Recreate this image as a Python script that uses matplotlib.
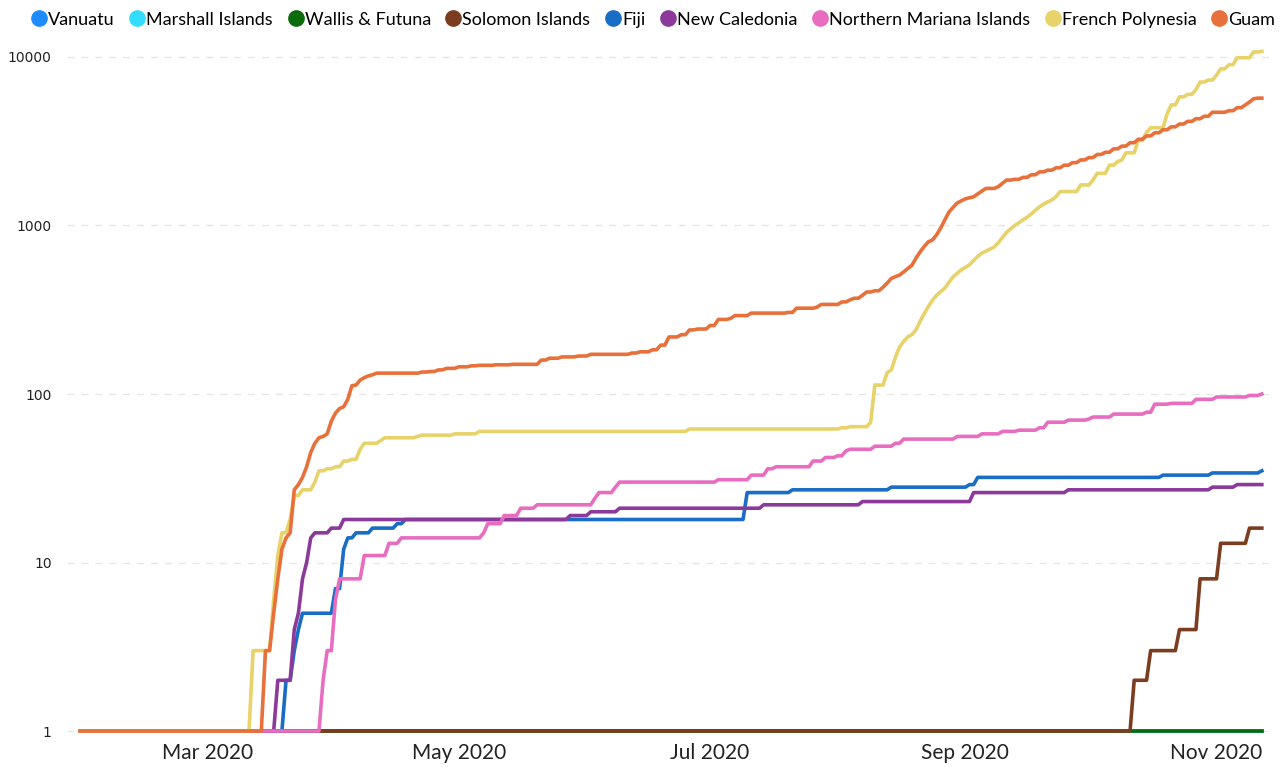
import matplotlib.pyplot as plt
import matplotlib.dates as mdates
from matplotlib.lines import Line2D
from matplotlib.ticker import NullLocator
import numpy as np
import pandas as pd

START = "2020-01-30"
END = "2020-11-12"

countries = ["Vanuatu", "Marshall Islands", "Wallis & Futuna", "Solomon Islands", "Fiji",
             "New Caledonia", "Northern Mariana Islands", "French Polynesia", "Guam"]
colours = ["#1e8cff", "#33ddff", "#0b6b0b", "#7a3d1f", "#1a6dc4",
           "#8b3a9c", "#e86dc0", "#e8d26a", "#e8703a"]

# cumulative confirmed cases, written as (date the total changed, new total)
vanuatu_dates = ["2020-01-30"]
vanuatu_cases = [1]

marshall_dates = ["2020-01-30"]
marshall_cases = [1]

wallis_dates = ["2020-01-30"]
wallis_cases = [1]

solomon_dates = ["2020-01-30", "2020-10-12", "2020-10-16", "2020-10-23", "2020-10-28",
                 "2020-11-02", "2020-11-09"]
solomon_cases = [1, 2, 3, 4, 8, 13, 16]

fiji_dates = ["2020-01-30", "2020-03-20", "2020-03-22", "2020-03-23", "2020-03-24",
              "2020-04-01", "2020-04-03", "2020-04-04", "2020-04-06", "2020-04-10",
              "2020-04-16", "2020-04-18", "2020-07-10", "2020-07-21", "2020-08-14",
              "2020-09-02", "2020-09-04", "2020-10-19", "2020-10-31", "2020-11-12"]
fiji_cases = [1, 2, 3, 4, 5, 7, 12, 14, 15, 16, 17, 18, 26, 27, 28, 29, 32, 33, 34, 35]

caledonia_dates = ["2020-01-30", "2020-03-18", "2020-03-22", "2020-03-23", "2020-03-24",
                   "2020-03-25", "2020-03-26", "2020-03-27", "2020-03-31", "2020-04-03",
                   "2020-05-28", "2020-06-02", "2020-06-09", "2020-07-14", "2020-08-07",
                   "2020-09-03", "2020-09-26", "2020-10-31", "2020-11-06"]
caledonia_cases = [1, 2, 4, 5, 8, 10, 14, 15, 16, 18, 19, 20, 21, 22, 23, 26, 27, 28, 29]

mariana_dates = ["2020-01-30", "2020-03-29", "2020-03-30", "2020-04-01", "2020-04-02",
                 "2020-04-08", "2020-04-14", "2020-04-17", "2020-05-07", "2020-05-08",
                 "2020-05-12", "2020-05-16", "2020-05-20", "2020-06-03", "2020-06-04",
                 "2020-06-08", "2020-06-09", "2020-07-03", "2020-07-11", "2020-07-15",
                 "2020-07-17", "2020-07-26", "2020-07-29", "2020-08-01", "2020-08-03",
                 "2020-08-04", "2020-08-10", "2020-08-15", "2020-08-17", "2020-08-30",
                 "2020-09-05", "2020-09-10", "2020-09-14", "2020-09-19", "2020-09-21",
                 "2020-09-26", "2020-10-01", "2020-10-02", "2020-10-07", "2020-10-15",
                 "2020-10-17", "2020-10-21", "2020-10-27", "2020-11-01", "2020-11-09",
                 "2020-11-12"]
mariana_cases = [1, 2, 3, 6, 8, 11, 13, 14, 15, 17, 19, 21, 22, 24, 26, 28, 30, 31, 33, 36,
                 37, 40, 42, 43, 46, 47, 49, 51, 54, 56, 58, 60, 61, 63, 68, 70, 71, 73, 76,
                 78, 87, 88, 93, 96, 98, 100]

polynesia_dates = ["2020-01-30", "2020-03-12", "2020-03-17", "2020-03-18", "2020-03-19",
                   "2020-03-21", "2020-03-22", "2020-03-24", "2020-03-27", "2020-03-28",
                   "2020-03-30", "2020-04-01", "2020-04-03", "2020-04-05", "2020-04-07",
                   "2020-04-08", "2020-04-12", "2020-04-13", "2020-04-21", "2020-04-22",
                   "2020-04-30", "2020-05-06", "2020-06-26", "2020-08-02", "2020-08-04",
                   "2020-08-09", "2020-08-10", "2020-08-13", "2020-08-14", "2020-08-15",
                   "2020-08-16", "2020-08-17", "2020-08-18", "2020-08-19", "2020-08-20",
                   "2020-08-21", "2020-08-22", "2020-08-23", "2020-08-24", "2020-08-25",
                   "2020-08-26", "2020-08-27", "2020-08-28", "2020-08-29", "2020-08-30",
                   "2020-08-31", "2020-09-01", "2020-09-02", "2020-09-03", "2020-09-04",
                   "2020-09-05", "2020-09-06", "2020-09-07", "2020-09-08", "2020-09-09",
                   "2020-09-10", "2020-09-11", "2020-09-12", "2020-09-13", "2020-09-14",
                   "2020-09-15", "2020-09-16", "2020-09-17", "2020-09-18", "2020-09-19",
                   "2020-09-20", "2020-09-21", "2020-09-22", "2020-09-23", "2020-09-24",
                   "2020-09-29", "2020-10-02", "2020-10-03", "2020-10-06", "2020-10-08",
                   "2020-10-09", "2020-10-10", "2020-10-13", "2020-10-15", "2020-10-16",
                   "2020-10-20", "2020-10-21", "2020-10-23", "2020-10-25", "2020-10-27",
                   "2020-10-28", "2020-10-30", "2020-11-01", "2020-11-02", "2020-11-04",
                   "2020-11-06", "2020-11-10", "2020-11-12"]
polynesia_cases = [1, 3, 6, 11, 15, 18, 25, 27, 30, 35, 36, 37, 40, 41, 47, 51, 53, 55, 56,
                   57, 58, 60, 62, 63, 64, 68, 113, 134, 139, 165, 190, 205, 218, 225, 240,
                   270, 300, 330, 360, 385, 405, 425, 460, 495, 520, 545, 565, 585, 620, 655,
                   685, 705, 725, 745, 790, 850, 910, 955, 1000, 1040, 1080, 1120, 1170,
                   1230, 1290, 1340, 1380, 1420, 1480, 1590, 1740, 1860, 2040, 2280, 2400,
                   2450, 2700, 3200, 3570, 3800, 4600, 5200, 5800, 6000, 6400, 7100, 7300,
                   7800, 8500, 9000, 9900, 10700, 10800]

guam_dates = ["2020-01-30", "2020-03-15", "2020-03-17", "2020-03-18", "2020-03-19",
              "2020-03-20", "2020-03-21", "2020-03-22", "2020-03-23", "2020-03-24",
              "2020-03-25", "2020-03-26", "2020-03-27", "2020-03-28", "2020-03-29",
              "2020-03-30", "2020-03-31", "2020-04-01", "2020-04-02", "2020-04-03",
              "2020-04-04", "2020-04-05", "2020-04-06", "2020-04-07", "2020-04-08",
              "2020-04-09", "2020-04-10", "2020-04-11", "2020-04-22", "2020-04-24",
              "2020-04-26", "2020-04-28", "2020-05-01", "2020-05-04", "2020-05-06",
              "2020-05-10", "2020-05-14", "2020-05-21", "2020-05-23", "2020-05-26",
              "2020-05-30", "2020-06-02", "2020-06-12", "2020-06-14", "2020-06-17",
              "2020-06-19", "2020-06-21", "2020-06-24", "2020-06-26", "2020-06-28",
              "2020-07-01", "2020-07-03", "2020-07-06", "2020-07-07", "2020-07-11",
              "2020-07-20", "2020-07-22", "2020-07-27", "2020-07-28", "2020-08-02",
              "2020-08-04", "2020-08-05", "2020-08-07", "2020-08-08", "2020-08-10",
              "2020-08-12", "2020-08-13", "2020-08-14", "2020-08-15", "2020-08-16",
              "2020-08-17", "2020-08-18", "2020-08-19", "2020-08-20", "2020-08-21",
              "2020-08-22", "2020-08-23", "2020-08-24", "2020-08-25", "2020-08-26",
              "2020-08-27", "2020-08-28", "2020-08-29", "2020-08-30", "2020-08-31",
              "2020-09-01", "2020-09-02", "2020-09-03", "2020-09-04", "2020-09-05",
              "2020-09-06", "2020-09-08", "2020-09-09", "2020-09-10", "2020-09-11",
              "2020-09-13", "2020-09-15", "2020-09-17", "2020-09-19", "2020-09-21",
              "2020-09-23", "2020-09-25", "2020-09-27", "2020-09-29", "2020-10-01",
              "2020-10-03", "2020-10-05", "2020-10-07", "2020-10-09", "2020-10-11",
              "2020-10-13", "2020-10-15", "2020-10-17", "2020-10-19", "2020-10-21",
              "2020-10-23", "2020-10-25", "2020-10-27", "2020-10-29", "2020-10-31",
              "2020-11-04", "2020-11-06", "2020-11-08", "2020-11-09", "2020-11-10",
              "2020-11-11"]
guam_cases = [1, 3, 5, 8, 12, 14, 15, 27, 29, 32, 37, 45, 51, 55, 56, 58, 69, 77, 82, 84,
              93, 112, 113, 121, 125, 128, 130, 133, 135, 136, 139, 142, 145, 147, 148, 149,
              150, 159, 163, 166, 168, 172, 175, 178, 183, 195, 218, 225, 240, 243, 255, 277,
              281, 292, 302, 305, 323, 328, 340, 352, 362, 370, 385, 403, 410, 430, 455, 485,
              497, 508, 530, 555, 580, 640, 697, 750, 800, 820, 880, 965, 1080, 1200, 1280,
              1360, 1400, 1440, 1460, 1480, 1540, 1600, 1660, 1660, 1700, 1780, 1860, 1880,
              1930, 2000, 2080, 2130, 2200, 2280, 2360, 2450, 2530, 2640, 2720, 2850, 2960,
              3100, 3250, 3400, 3550, 3700, 3850, 4000, 4150, 4300, 4450, 4700, 4800, 5000,
              5200, 5400, 5650, 5700]

series = [
    (vanuatu_dates, vanuatu_cases),
    (marshall_dates, marshall_cases),
    (wallis_dates, wallis_cases),
    (solomon_dates, solomon_cases),
    (fiji_dates, fiji_cases),
    (caledonia_dates, caledonia_cases),
    (mariana_dates, mariana_cases),
    (polynesia_dates, polynesia_cases),
    (guam_dates, guam_cases),
]


def daily(dates, cases):
    # totals only change on the listed days, so hold each one until the next
    s = pd.Series(cases, index=pd.to_datetime(dates), dtype=float)
    days = pd.date_range(START, END, freq="D")
    return s.reindex(days).ffill()


fig = plt.figure(figsize=(12.87, 7.67), dpi=100)
ax = fig.add_axes([67 / 1287, 32 / 767, 1208 / 1287, 690 / 767])

for (dates, cases), name, col in zip(series, countries, colours):
    s = daily(dates, cases)
    ax.plot(s.index, s.values, color=col, lw=2.6, label=name, zorder=3)

ax.set_yscale("log")
ax.set_ylim(0.947, 11780)
ax.set_xlim(pd.Timestamp(START) - pd.Timedelta(days=3.2),
            pd.Timestamp(END) + pd.Timedelta(days=3.2))

yt = [1, 10, 100, 1000, 10000]
ax.set_yticks(yt)
ax.set_yticklabels([str(v) for v in yt], fontsize=10, color="#222222", family="DejaVu Sans")
ax.yaxis.set_minor_locator(NullLocator())

xt = pd.to_datetime(["2020-03-01", "2020-05-01", "2020-07-01", "2020-09-01", "2020-11-01"])
ax.set_xticks(xt)
ax.set_xticklabels([d.strftime("%b %Y") for d in xt], fontsize=15, color="#222222",
                   family="Lato")

ax.tick_params(axis="both", length=0)
ax.tick_params(axis="y", pad=11)
ax.tick_params(axis="x", pad=6)

for sp in ax.spines.values():
    sp.set_visible(False)

ax.grid(axis="y", linestyle=(0, (5, 5)), color="#e6e6e6", lw=1)
ax.grid(axis="x", visible=False)
ax.set_axisbelow(True)

handles = [Line2D([], [], marker="o", linestyle="none", markersize=11,
                  markerfacecolor=c, markeredgecolor=c) for c in colours]
fig.legend(handles, countries, loc="upper center", bbox_to_anchor=(0.508, 1.0), ncol=9,
           frameon=False, handlelength=0.7, handletextpad=0.15, columnspacing=0.9,
           prop={"family": "Lato", "size": 13}, borderaxespad=0.25)

fig.savefig("out.png", dpi=100)
